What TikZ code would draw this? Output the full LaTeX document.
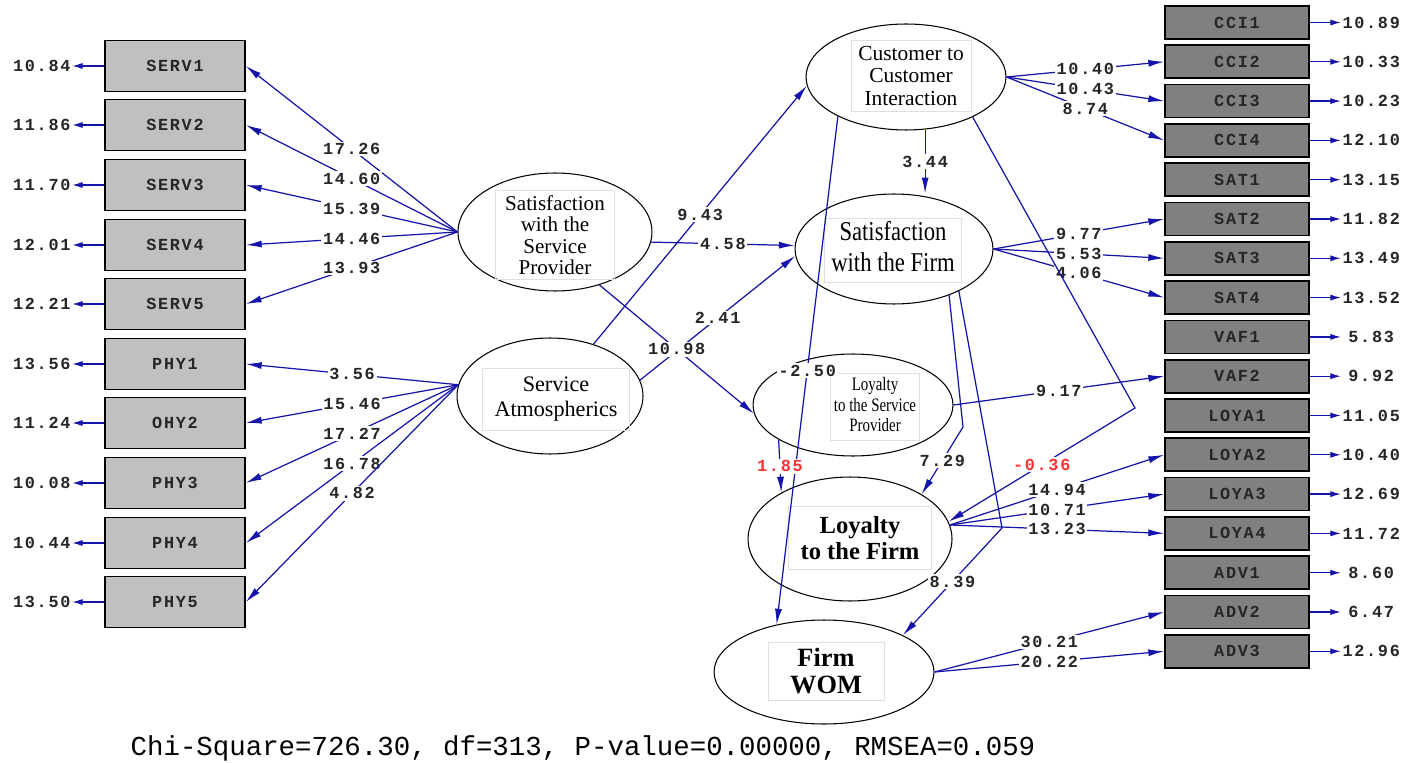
\documentclass[tikz,border=0pt]{standalone}
\usepackage{graphicx}
\usepackage{fontspec}
\setmainfont{Liberation Serif}
\newfontfamily\lisfont[LetterSpace=10]{Liberation Mono}
\newfontfamily\fitfont{Liberation Mono}
\usepackage{tikz}
\usetikzlibrary{shapes.geometric,arrows.meta,positioning}
\usepackage{xcolor}
\definecolor{pathblue}{RGB}{20,20,170}
\definecolor{negred}{RGB}{255,50,50}
\definecolor{boxlight}{RGB}{192,192,192}
\definecolor{boxdark}{RGB}{128,128,128}

\newcommand{\tallbox}[2]{\scalebox{1}[#1]{\begin{tabular}{@{}c@{}}#2\end{tabular}}}

\tikzset{
  lvar/.style={ellipse,draw,line width=0.6pt,inner sep=0pt},
  txtframe/.style={draw=black!12,line width=0.4pt,align=center,inner sep=0pt},
  lbox/.style={rectangle,draw,line width=1pt,fill=boxlight,minimum width=2.8cm,minimum height=1.02cm,
    font=\lisfont\bfseries\fontsize{9.6}{10}\selectfont,text=black!85},
  rbox/.style={rectangle,draw,line width=1pt,fill=boxdark,minimum width=2.88cm,minimum height=0.66cm,
    font=\lisfont\bfseries\fontsize{9.6}{10}\selectfont,text=black!85},
  load/.style={-{Latex[length=9pt,width=4pt]},pathblue,line width=0.7pt},
  err/.style={-{Latex[length=6pt,width=3.5pt]},pathblue,line width=0.7pt},
  val/.style={fill=white,inner sep=1pt,font=\lisfont\bfseries\fontsize{9.6}{10}\selectfont,text=black!85},
  negval/.style={val,text=negred},
  errval/.style={inner sep=0pt,minimum width=1.2cm,font=\lisfont\bfseries\fontsize{9.6}{10}\selectfont,text=black!85}
}

\begin{document}
\begin{tikzpicture}[x=0.02cm,y=-0.02cm]
    \useasboundingbox (0,0) rectangle (1415,763);

    % Observed variables, left
    \node[lbox] (serv1) at (175,66) {SERV1};
    \node[lbox] (serv2) at (175,125) {SERV2};
    \node[lbox] (serv3) at (175,185) {SERV3};
    \node[lbox] (serv4) at (175,245) {SERV4};
    \node[lbox] (serv5) at (175,304) {SERV5};
    \node[lbox] (phy1) at (175,364) {PHY1};
    \node[lbox] (phy2) at (175,423) {OHY2};
    \node[lbox] (phy3) at (175,483) {PHY3};
    \node[lbox] (phy4) at (175,543) {PHY4};
    \node[lbox] (phy5) at (175,602) {PHY5};

    % Error values, left
    \node[errval,left=0.64cm of serv1] (eserv1) {10.84};
    \node[errval,left=0.64cm of serv2] (eserv2) {11.86};
    \node[errval,left=0.64cm of serv3] (eserv3) {11.70};
    \node[errval,left=0.64cm of serv4] (eserv4) {12.01};
    \node[errval,left=0.64cm of serv5] (eserv5) {12.21};
    \node[errval,left=0.64cm of phy1] (ephy1) {13.56};
    \node[errval,left=0.64cm of phy2] (ephy2) {11.24};
    \node[errval,left=0.64cm of phy3] (ephy3) {10.08};
    \node[errval,left=0.64cm of phy4] (ephy4) {10.44};
    \node[errval,left=0.64cm of phy5] (ephy5) {13.50};
    \draw[err] (serv1) -- (eserv1);
    \draw[err] (serv2) -- (eserv2);
    \draw[err] (serv3) -- (eserv3);
    \draw[err] (serv4) -- (eserv4);
    \draw[err] (serv5) -- (eserv5);
    \draw[err] (phy1) -- (ephy1);
    \draw[err] (phy2) -- (ephy2);
    \draw[err] (phy3) -- (ephy3);
    \draw[err] (phy4) -- (ephy4);
    \draw[err] (phy5) -- (ephy5);

    % Observed variables, right
    \node[rbox] (cci1) at (1237,22.5) {CCI1};
    \node[rbox] (cci2) at (1237,61.8) {CCI2};
    \node[rbox] (cci3) at (1237,101.1) {CCI3};
    \node[rbox] (cci4) at (1237,140.4) {CCI4};
    \node[rbox] (sat1) at (1237,179.7) {SAT1};
    \node[rbox] (sat2) at (1237,219) {SAT2};
    \node[rbox] (sat3) at (1237,258.3) {SAT3};
    \node[rbox] (sat4) at (1237,297.6) {SAT4};
    \node[rbox] (vaf1) at (1237,336.9) {VAF1};
    \node[rbox] (vaf2) at (1237,376.2) {VAF2};
    \node[rbox] (loya1) at (1237,415.5) {LOYA1};
    \node[rbox] (loya2) at (1237,454.8) {LOYA2};
    \node[rbox] (loya3) at (1237,494.1) {LOYA3};
    \node[rbox] (loya4) at (1237,533.4) {LOYA4};
    \node[rbox] (adv1) at (1237,572.7) {ADV1};
    \node[rbox] (adv2) at (1237,612) {ADV2};
    \node[rbox] (adv3) at (1237,651.3) {ADV3};

    % Error values, right
    \node[errval,right=0.62cm of cci1] (ecci1) {10.89};
    \node[errval,right=0.62cm of cci2] (ecci2) {10.33};
    \node[errval,right=0.62cm of cci3] (ecci3) {10.23};
    \node[errval,right=0.62cm of cci4] (ecci4) {12.10};
    \node[errval,right=0.62cm of sat1] (esat1) {13.15};
    \node[errval,right=0.62cm of sat2] (esat2) {11.82};
    \node[errval,right=0.62cm of sat3] (esat3) {13.49};
    \node[errval,right=0.62cm of sat4] (esat4) {13.52};
    \node[errval,right=0.62cm of vaf1] (evaf1) {5.83};
    \node[errval,right=0.62cm of vaf2] (evaf2) {9.92};
    \node[errval,right=0.62cm of loya1] (eloya1) {11.05};
    \node[errval,right=0.62cm of loya2] (eloya2) {10.40};
    \node[errval,right=0.62cm of loya3] (eloya3) {12.69};
    \node[errval,right=0.62cm of loya4] (eloya4) {11.72};
    \node[errval,right=0.62cm of adv1] (eadv1) {8.60};
    \node[errval,right=0.62cm of adv2] (eadv2) {6.47};
    \node[errval,right=0.62cm of adv3] (eadv3) {12.96};
    \draw[err] (cci1) -- (ecci1);
    \draw[err] (cci2) -- (ecci2);
    \draw[err] (cci3) -- (ecci3);
    \draw[err] (cci4) -- (ecci4);
    \draw[err] (sat1) -- (esat1);
    \draw[err] (sat2) -- (esat2);
    \draw[err] (sat3) -- (esat3);
    \draw[err] (sat4) -- (esat4);
    \draw[err] (vaf1) -- (evaf1);
    \draw[err] (vaf2) -- (evaf2);
    \draw[err] (loya1) -- (eloya1);
    \draw[err] (loya2) -- (eloya2);
    \draw[err] (loya3) -- (eloya3);
    \draw[err] (loya4) -- (eloya4);
    \draw[err] (adv1) -- (eadv1);
    \draw[err] (adv2) -- (eadv2);
    \draw[err] (adv3) -- (eadv3);

    % Latent variables
    \node[lvar,minimum width=3.88cm,minimum height=2.36cm] (ssp) at (555,232) {};
    \node[lvar,minimum width=3.72cm,minimum height=2.32cm] (sa) at (550,396) {};
    \node[lvar,minimum width=4cm,minimum height=2.12cm] (cci) at (906,77) {};
    \node[lvar,minimum width=3.96cm,minimum height=2.2cm] (satf) at (894,249) {};
    \node[lvar,minimum width=4cm,minimum height=2.04cm] (loysp) at (853,405) {};
    \node[lvar,minimum width=4.08cm,minimum height=2.48cm] (loyf) at (850,539) {};
    \node[lvar,minimum width=4.4cm,minimum height=2.08cm] (fwom) at (824,672) {};

    % Text of the latent variables
    \node[txtframe,minimum width=2.38cm,minimum height=1.78cm,font=\fontsize{12}{12.2}\selectfont]
        (ssptext) at (555,235) {Satisfaction\\with the\\Service\\Provider};
    \node[txtframe,minimum width=2.94cm,minimum height=1.24cm,font=\fontsize{12.6}{14.2}\selectfont]
        (satext) at (556,399) {Service\\Atmospherics};
    \node[txtframe,minimum width=2.4cm,minimum height=1.42cm,font=\fontsize{12.2}{12.8}\selectfont]
        (ccitext) at (911,76) {Customer to\\Customer\\Interaction};
    \node[txtframe,minimum width=2.74cm,minimum height=1.28cm,font=\fontsize{12.9}{14.6}\selectfont]
        (satftext) at (893,250) {\tallbox{1.2}{Satisfaction\\with the Firm}};
    \node[txtframe,minimum width=1.78cm,minimum height=1.34cm,font=\fontsize{8.5}{9.1}\selectfont]
        (loysptext) at (875,407) {\tallbox{1.27}{Loyalty\\to the Service\\Provider}};
    \node[txtframe,minimum width=2.86cm,minimum height=1.26cm,font=\bfseries\fontsize{14}{15}\selectfont]
        (loyftext) at (860,538) {Loyalty\\to the Firm};
    \node[txtframe,minimum width=2.32cm,minimum height=1.16cm,font=\bfseries\fontsize{15}{15.5}\selectfont]
        (fwomtext) at (826,671) {Firm\\WOM};

    % Bends of the long paths
    \coordinate (bendA) at (1135,408);
    \coordinate (bendB) at (963,427);
    \coordinate (bendC) at (1002,528);

    % Loadings, left
    \draw[load] (ssp.west) -- node[val] {17.26} (serv1.east);
    \draw[load] (ssp.west) -- node[val] {14.60} (serv2.east);
    \draw[load] (ssp.west) -- node[val] {15.39} (serv3.east);
    \draw[load] (ssp.west) -- node[val] {14.46} (serv4.east);
    \draw[load] (ssp.west) -- node[val] {13.93} (serv5.east);
    \draw[load] (sa.173) -- node[val] {3.56} (phy1.east);
    \draw[load] (sa.173) -- node[val] {15.46} (phy2.east);
    \draw[load] (sa.173) -- node[val] {17.27} (phy3.east);
    \draw[load] (sa.173) -- node[val] {16.78} (phy4.east);
    \draw[load] (sa.173) -- node[val] {4.82} (phy5.east);

    % Loadings, right
    \draw[load] (cci.east) -- node[val] {10.40} (cci2.west);
    \draw[load] (cci.east) -- node[val] {10.43} (cci3.west);
    \draw[load] (cci.east) -- node[val] {8.74} (cci4.west);
    \draw[load] (satf.east) -- node[val] {9.77} (sat2.west);
    \draw[load] (satf.east) -- node[val] {5.53} (sat3.west);
    \draw[load] (satf.east) -- node[val] {4.06} (sat4.west);
    \draw[load] (loysp.east) -- node[val] {9.17} (vaf2.west);
    \draw[load] (loyf.8) -- node[val] {14.94} (loya2.west);
    \draw[load] (loyf.8) -- node[val] {10.71} (loya3.west);
    \draw[load] (loyf.8) -- node[val] {13.23} (loya4.west);
    \draw[load] (fwom.east) -- node[val] {30.21} (adv2.west);
    \draw[load] (fwom.east) -- node[val] {20.22} (adv3.west);

    % Structural paths
    \draw[load] (sa.50) -- node[val] {9.43} (cci.185);
    \draw[load] (ssp.354) -- node[val] {4.58} (satf.178);
    \draw[load] (sa.10) -- node[val] {2.41} (satf.184);
    \draw[load] (ssp.310) -- node[val] {10.98} (loysp.185);
    \draw[load] (cci.290) -- node[val] {3.44} (cci.290 |- satf.north);
    \draw[load] (cci.210) -- node[val] {-2.50} (fwom.135);
    \draw[load] (cci.329) -- (bendA) -- node[negval] {-0.36} (loyf.10);
    \draw[load] (satf.320) -- (bendB) -- node[val] {7.29} (loyf.32);
    \draw[load] (satf.327) -- (bendC) -- node[val] {8.39} (fwom.25);
    \draw[load] (loysp.205) -- node[negval] {1.85} (loyf.146);

    % Fit statistics
    \node[font=\fitfont\fontsize{15.6}{16}\selectfont] (fit) at (583,748)
        {Chi-Square=726.30, df=313, P-value=0.00000, RMSEA=0.059};
\end{tikzpicture}
\end{document}
